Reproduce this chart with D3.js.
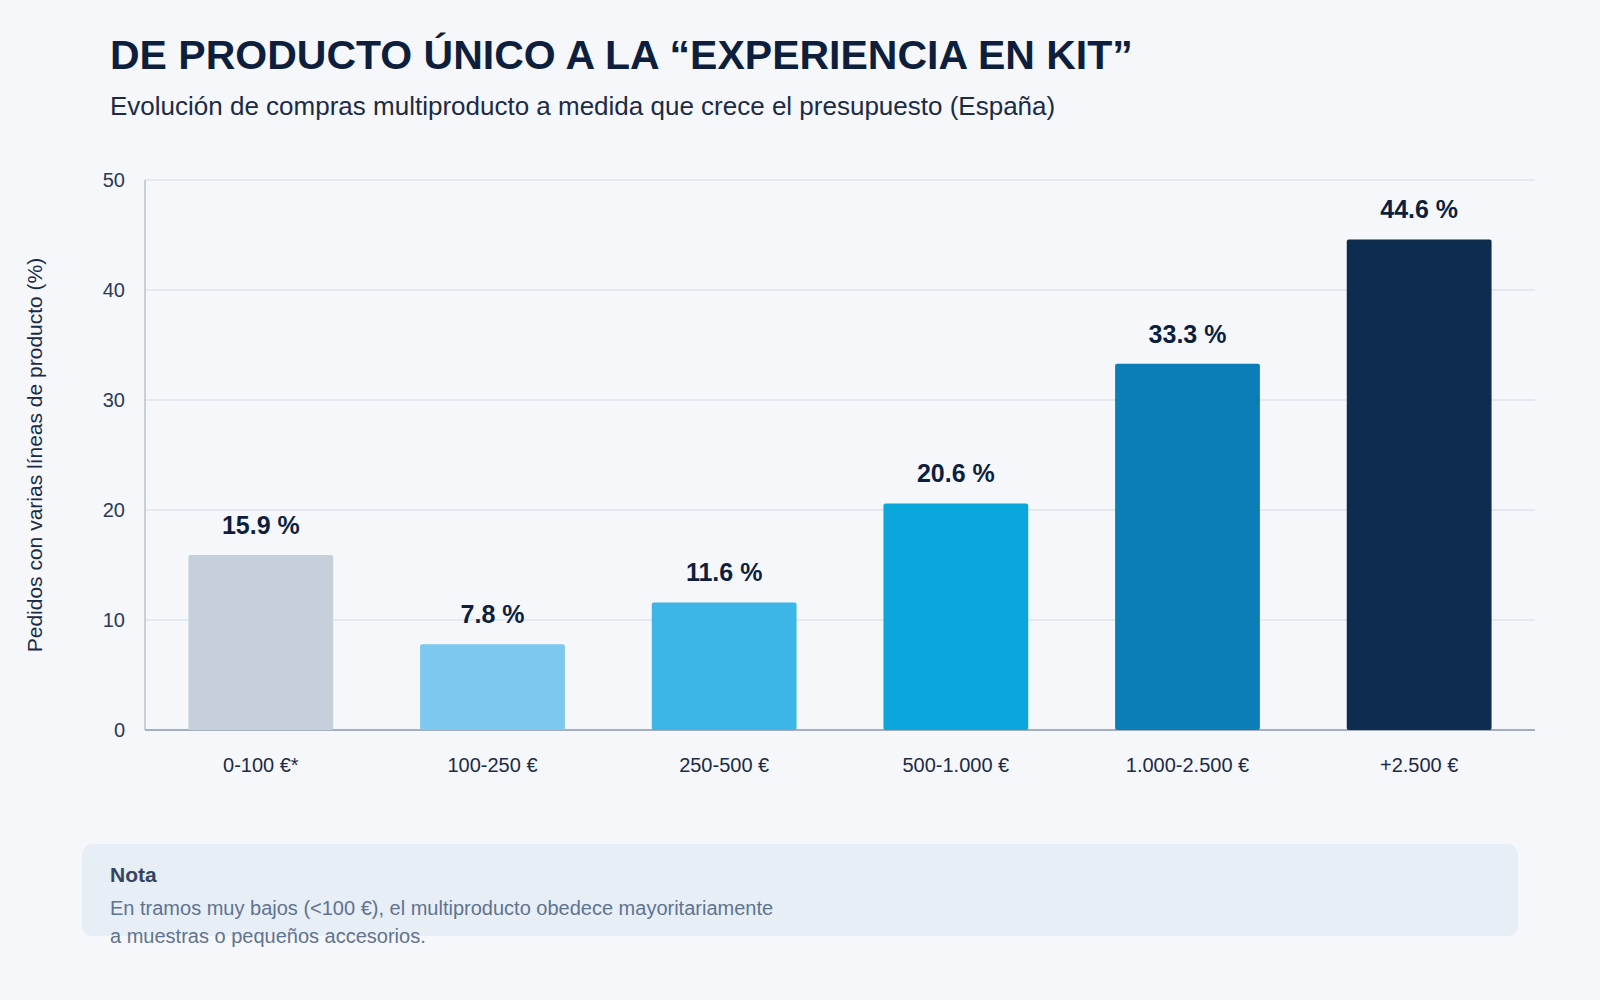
<!DOCTYPE html>
<html><head><meta charset="utf-8">
<script src="https://cdn.jsdelivr.net/npm/d3@7"></script>
<style>body{margin:0;background:#f5f7fb;font-family:"Liberation Sans",Arial,sans-serif}</style>
</head><body><svg id="c" width="1600" height="1000"></svg>
<script>
const categories=["0-100 €*","100-250 €","250-500 €","500-1.000 €","1.000-2.500 €","+2.500 €"];
const values=[15.9,7.8,11.6,20.6,33.3,44.6];
const colors=["#c5d0dc","#7dc8ee","#3db5e6","#0aa6dc","#0b7eb8","#0e2b50"];
const yTicks=[0,10,20,30,40,50];
const svg=d3.select("#c");
svg.append("rect").attr("width",1600).attr("height",1000).attr("fill","#f5f7fb");
svg.append("text").attr("x",110).attr("y",69).attr("font-size",41).attr("font-weight","bold").attr("fill","#0e1f3d").text("DE PRODUCTO ÚNICO A LA “EXPERIENCIA EN KIT”");
svg.append("text").attr("x",110).attr("y",115).attr("font-size",26).attr("fill","#1c2b44").text("Evolución de compras multiproducto a medida que crece el presupuesto (España)");
const L=145,R=1535,T=180,B=730;
const x=d3.scaleBand().domain(categories).range([L,R]).paddingInner(0.375).paddingOuter(0.1875);
const y=d3.scaleLinear().domain([0,50]).range([B,T]);
const g=svg.append("g");
g.selectAll(".gl").data(yTicks.slice(1)).join("line").attr("x1",L).attr("x2",R).attr("y1",d=>y(d)).attr("y2",d=>y(d)).attr("stroke","#d3dbe6").attr("stroke-width",1.2);
g.append("line").attr("x1",L).attr("x2",L).attr("y1",T).attr("y2",B).attr("stroke","#9aa8bb");
g.append("line").attr("x1",L).attr("x2",R).attr("y1",B).attr("y2",B).attr("stroke","#8797ad").attr("stroke-width",1.5);
g.selectAll(".yt").data(yTicks).join("text").attr("x",L-20).attr("y",d=>y(d)+7).attr("text-anchor","end").attr("font-size",20).attr("fill","#2a3a55").text(d=>d);
g.selectAll(".bar").data(values).join("rect").attr("x",(d,i)=>x(categories[i])).attr("width",x.bandwidth()).attr("y",d=>y(d)).attr("height",d=>B-y(d)).attr("fill",(d,i)=>colors[i]).attr("rx",2);
g.selectAll(".vl").data(values).join("text").attr("x",(d,i)=>x(categories[i])+x.bandwidth()/2).attr("y",d=>y(d)-21).attr("text-anchor","middle").attr("font-size",25).attr("font-weight","bold").attr("fill","#0e1f3d").text(d=>d.toFixed(1)+" %");
g.selectAll(".xl").data(categories).join("text").attr("x",d=>x(d)+x.bandwidth()/2).attr("y",772).attr("text-anchor","middle").attr("font-size",20).attr("fill","#1c2b44").text(d=>d);
svg.append("text").attr("transform","translate(42,455) rotate(-90)").attr("text-anchor","middle").attr("font-size",21).attr("fill","#1c2b44").text("Pedidos con varias líneas de producto (%)");
svg.append("rect").attr("x",82).attr("y",844).attr("width",1436).attr("height",92).attr("rx",10).attr("fill","#e7eef6");
svg.append("text").attr("x",110).attr("y",882).attr("font-size",21).attr("font-weight","bold").attr("fill","#34465f").text("Nota");
svg.append("text").attr("x",110).attr("y",915).attr("font-size",20).attr("fill","#5f7390").text("En tramos muy bajos (<100 €), el multiproducto obedece mayoritariamente");
svg.append("text").attr("x",110).attr("y",943).attr("font-size",20).attr("fill","#5f7390").text("a muestras o pequeños accesorios.");
</script></body></html>
